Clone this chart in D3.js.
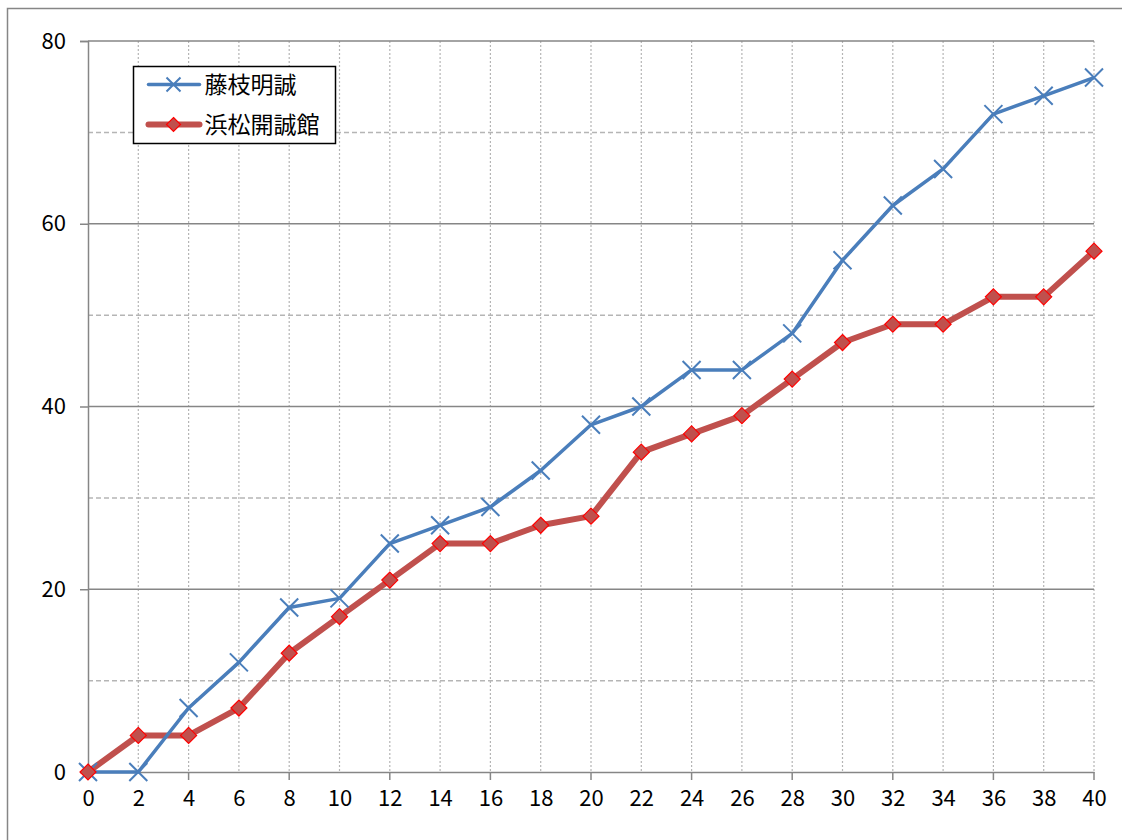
<!DOCTYPE html>
<html>
<head>
<meta charset="utf-8">
<script src="https://cdn.jsdelivr.net/npm/d3@7"></script>
<style>
  body { margin: 0; background: #fff; }
  svg text { font-family: "Noto Sans CJK JP", "Noto Sans", sans-serif; fill: #000; }
</style>
</head>
<body>
<div id="chart"></div>
<script>
// Data
const xValues = [0, 2, 4, 6, 8, 10, 12, 14, 16, 18, 20, 22, 24, 26, 28, 30, 32, 34, 36, 38, 40];
const fujiedaMeisei = [0, 0, 7, 12, 18, 19, 25, 27, 29, 33, 38, 40, 44, 44, 48, 56, 62, 66, 72, 74, 76];
const hamamatsuKaiseikan = [0, 4, 4, 7, 13, 17, 21, 25, 25, 27, 28, 35, 37, 39, 43, 47, 49, 49, 52, 52, 57];
const seriesNames = ["藤枝明誠", "浜松開誠館"];
const yMajorTicks = [0, 20, 40, 60, 80];
const yMinorTicks = [10, 30, 50, 70];

const W = 1122, H = 840;
const margin = { top: 41, right: 28, bottom: 68, left: 88 };
const width = W - margin.left - margin.right;
const height = H - margin.top - margin.bottom;

const svg = d3.select("#chart").append("svg")
    .attr("width", W)
    .attr("height", H);

// Outer frame
svg.append("rect")
    .attr("x", 7.5).attr("y", 8.5)
    .attr("width", W).attr("height", H)
    .attr("fill", "none")
    .attr("stroke", "#868686")
    .attr("stroke-width", 1.5);

const g = svg.append("g").attr("transform", `translate(${margin.left},${margin.top})`);

// Scales
const x = d3.scaleLinear().domain([0, 40]).range([0, width]);
const y = d3.scaleLinear().domain([0, 80]).range([height, 0]);

// Vertical dotted gridlines
g.selectAll(".vgrid")
    .data(xValues.filter(d => d > 0))
    .enter().append("line")
    .attr("class", "vgrid")
    .attr("x1", d => x(d)).attr("x2", d => x(d))
    .attr("y1", 0).attr("y2", height)
    .attr("stroke", "#b5b5b5")
    .attr("stroke-width", 1.2)
    .attr("stroke-dasharray", "2,2");

// Minor horizontal dashed gridlines
g.selectAll(".minor")
    .data(yMinorTicks)
    .enter().append("line")
    .attr("class", "minor")
    .attr("x1", 0).attr("x2", width)
    .attr("y1", d => y(d)).attr("y2", d => y(d))
    .attr("stroke", "#b5b5b5")
    .attr("stroke-width", 1.5)
    .attr("stroke-dasharray", "5,3");

// Major horizontal gridlines
g.selectAll(".major")
    .data(yMajorTicks.filter(d => d > 0))
    .enter().append("line")
    .attr("class", "major")
    .attr("x1", 0).attr("x2", width)
    .attr("y1", d => y(d)).attr("y2", d => y(d))
    .attr("stroke", "#868686")
    .attr("stroke-width", 1.5);

// Axes
g.append("g")
    .call(d3.axisLeft(y).tickValues(yMajorTicks).tickSize(8).tickPadding(14))
    .call(a => a.selectAll("line, path").attr("stroke", "#868686").attr("stroke-width", 1.5))
    .call(a => a.selectAll("text").style("font-size", "22px"));

g.append("g")
    .attr("transform", `translate(0,${height})`)
    .call(d3.axisBottom(x).tickValues(xValues).tickSize(0).tickPadding(18)
        .tickFormat(d3.format("d")))
    .call(a => a.select(".domain").attr("stroke", "#868686").attr("stroke-width", 1.5))
    .call(a => a.selectAll("text").style("font-size", "22px"));

// Outer tick marks every 4 on x axis
g.selectAll(".xtick")
    .data(xValues.filter(d => d % 4 === 0 && d > 0))
    .enter().append("line")
    .attr("x1", d => x(d)).attr("x2", d => x(d))
    .attr("y1", height).attr("y2", height + 8)
    .attr("stroke", "#868686")
    .attr("stroke-width", 1.5);

// Lines
const line = d3.line().x((d, i) => x(xValues[i])).y(d => y(d));

g.append("path")
    .datum(hamamatsuKaiseikan)
    .attr("fill", "none")
    .attr("stroke", "#c0504d")
    .attr("stroke-width", 6)
    .attr("stroke-linejoin", "round")
    .attr("d", line);

g.append("path")
    .datum(fujiedaMeisei)
    .attr("fill", "none")
    .attr("stroke", "#4a7ebb")
    .attr("stroke-width", 3.5)
    .attr("stroke-linejoin", "round")
    .attr("d", line);

// Markers
const crossPath = s => `M${-s},${-s}L${s},${s}M${-s},${s}L${s},${-s}`;
const diamondPath = s => `M0,${-s}L${s},0L0,${s}L${-s},0Z`;

g.selectAll(".cross")
    .data(fujiedaMeisei)
    .enter().append("path")
    .attr("transform", (d, i) => `translate(${x(xValues[i])},${y(d)})`)
    .attr("d", crossPath(9))
    .attr("stroke", "#4a7ebb")
    .attr("stroke-width", 2)
    .attr("fill", "none");

g.selectAll(".diamond")
    .data(hamamatsuKaiseikan)
    .enter().append("path")
    .attr("transform", (d, i) => `translate(${x(xValues[i])},${y(d)})`)
    .attr("d", diamondPath(8))
    .attr("fill", "#c0504d")
    .attr("stroke", "#ff0000")
    .attr("stroke-width", 1.2);

// Legend
const legend = svg.append("g").attr("transform", "translate(133.5,66.5)");
legend.append("rect")
    .attr("width", 202).attr("height", 77)
    .attr("fill", "#fff")
    .attr("stroke", "#000")
    .attr("stroke-width", 1.5);

const legY = [18, 58];
legend.append("line")
    .attr("x1", 15).attr("x2", 66).attr("y1", legY[0]).attr("y2", legY[0])
    .attr("stroke", "#4a7ebb").attr("stroke-width", 3.5).attr("stroke-linecap", "round");
legend.append("path")
    .attr("transform", `translate(40,${legY[0]})`)
    .attr("d", crossPath(7))
    .attr("stroke", "#4a7ebb").attr("stroke-width", 2);
legend.append("line")
    .attr("x1", 15).attr("x2", 66).attr("y1", legY[1]).attr("y2", legY[1])
    .attr("stroke", "#c0504d").attr("stroke-width", 6).attr("stroke-linecap", "round");
legend.append("path")
    .attr("transform", `translate(40,${legY[1]})`)
    .attr("d", diamondPath(7))
    .attr("fill", "#c0504d").attr("stroke", "#ff0000").attr("stroke-width", 1.2);

legend.selectAll(".legtext")
    .data(seriesNames)
    .enter().append("text")
    .attr("x", 71)
    .attr("y", (d, i) => legY[i])
    .attr("dy", "0.36em")
    .style("font-size", "23px")
    .text(d => d);
</script>
</body>
</html>
